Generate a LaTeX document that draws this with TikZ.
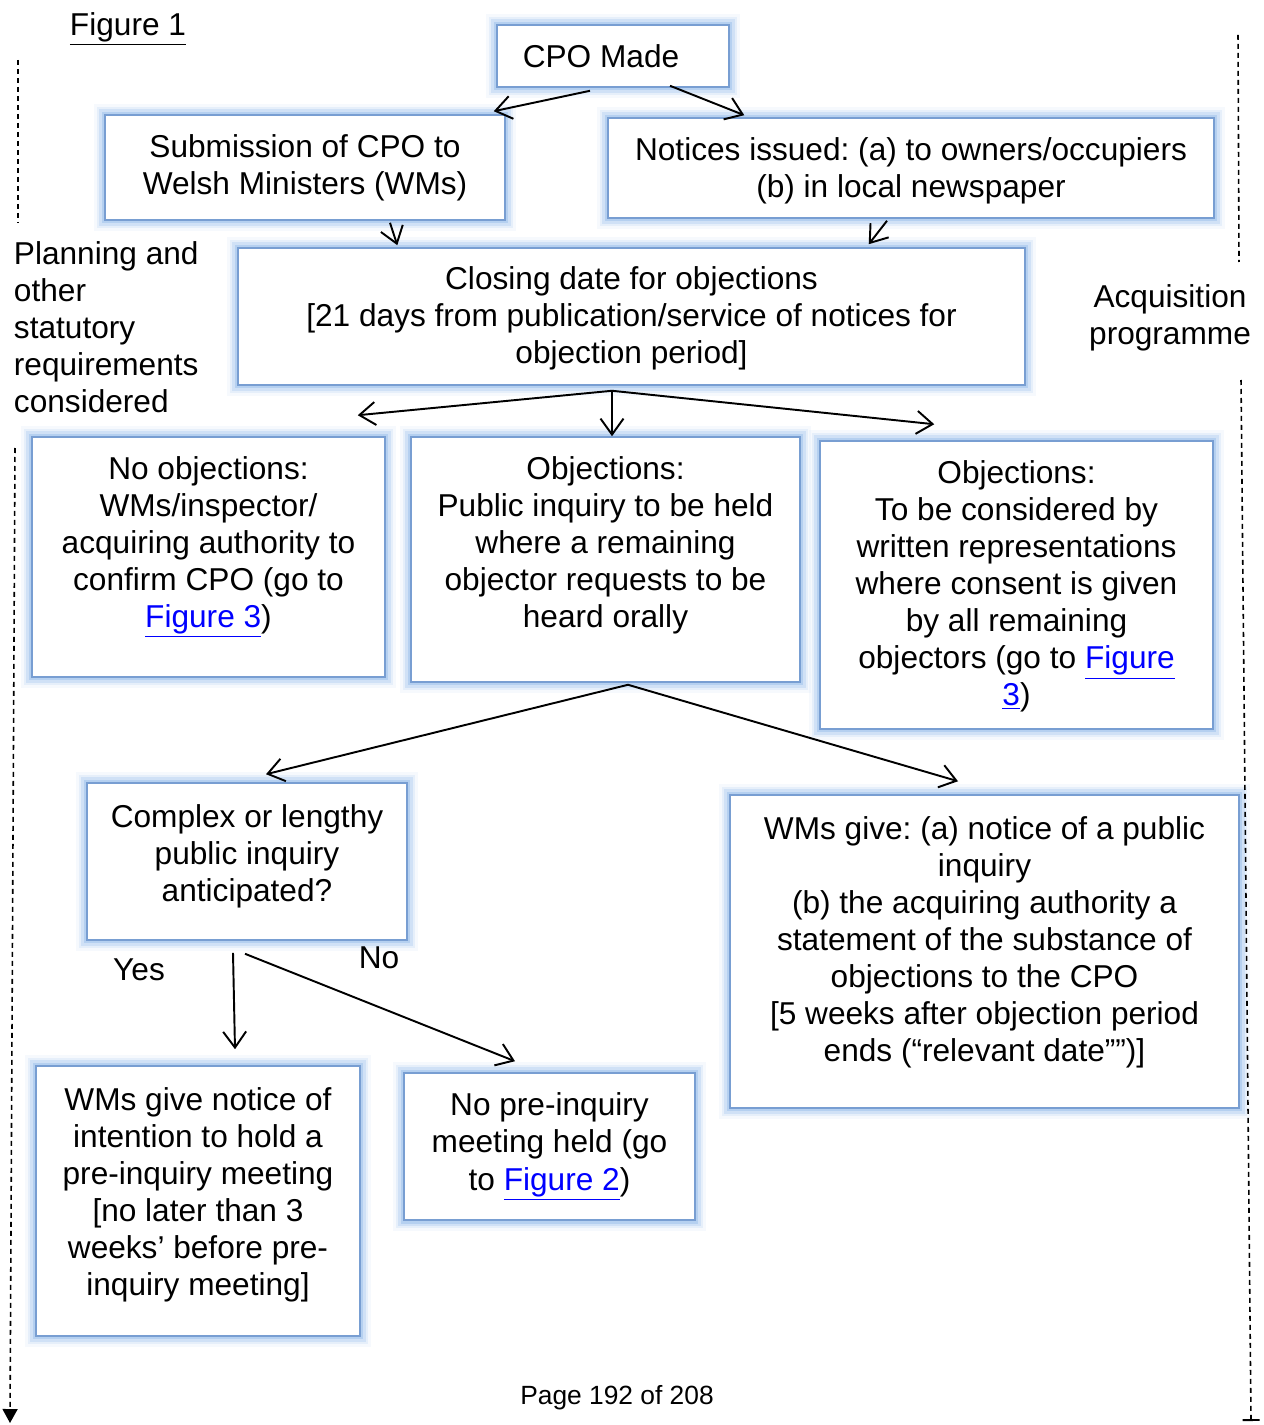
\documentclass[tikz,border=0pt]{standalone}
\usepackage{fontspec}
\setmainfont{Liberation Sans}
\usetikzlibrary{arrows.meta}
\usetikzlibrary{calc}
\definecolor{glow1}{RGB}{140, 182, 232}
\definecolor{edge1}{RGB}{120, 158, 210}
\definecolor{link1}{RGB}{0, 0, 255}
\newcommand{\lnk}[1]{\textcolor{link1}{\underline{#1}}}
\newcommand{\bodyfont}{\fontsize{18}{21.1}\selectfont}
\frenchspacing

\begin{document}
\begin{tikzpicture}[x=0.02cm, y=-0.02cm, line width=1.1pt,
  box/.style={draw=edge1, line width=0.9pt, fill=white, align=center, font=\bodyfont,
    preaction={draw=glow1, line width=0.44cm, opacity=0.08},
    preaction={draw=glow1, line width=0.34cm, opacity=0.15},
    preaction={draw=glow1, line width=0.24cm, opacity=0.25},
    preaction={draw=glow1, line width=0.14cm, opacity=0.4}},
  arr/.style={-{Straight Barb[length=0.32cm,width=0.46cm]}},
  dash1/.style={dash pattern=on 0.1cm off 0.08cm, line width=0.9pt},
  lbl/.style={font=\bodyfont, inner sep=0}]
  \useasboundingbox (0,0) rectangle (1263,1425);

  \node[box, minimum width=4.64cm, minimum height=1.24cm] (cpo) at (613,56) {CPO Made\hspace*{0.48cm}};
  \node[box, minimum width=8cm, minimum height=2.1cm, text depth=0.13cm] (sub) at (305,167.5)
    {Submission of CPO to\\Welsh Ministers (WMs)};
  \node[box, minimum width=12.12cm, minimum height=2cm, text depth=0cm] (notice) at (911,168)
    {Notices issued: (a) to owners/occupiers\\(b) in local newspaper};
  \node[box, minimum width=15.74cm, minimum height=2.74cm, text depth=0.05cm] (close) at (631.5,316.5)
    {Closing date for objections\\{}[21 days from publication/service of notices for\\objection period]};
  \node[box, minimum width=7.06cm, minimum height=4.8cm, text depth=0.61cm] (noobj) at (208.5,557)
    {No objections:\\WMs/inspector/\\acquiring authority to\\confirm CPO (go to\\\lnk{Figure 3})};
  \node[box, minimum width=7.78cm, minimum height=4.9cm, text depth=0.69cm] (objmid) at (605.5,559.5)
    {Objections:\\Public inquiry to be held\\where a remaining\\objector requests to be\\heard orally};
  \node[box, minimum width=7.86cm, minimum height=5.76cm, text depth=0.07cm] (objright) at (1016.5,585)
    {Objections:\\To be considered by\\written representations\\where consent is given\\by all remaining\\objectors (go to \lnk{Figure}\\\lnk{3})};
  \node[box, minimum width=6.4cm, minimum height=3.14cm, text depth=0.35cm] (complex) at (247,861.5)
    {Complex or lengthy\\public inquiry\\anticipated?};
  \node[box, minimum width=10.18cm, minimum height=6.26cm, text depth=0.51cm] (wmsgive) at (984.5,951.5)
    {WMs give: (a) notice of a public\\inquiry\\(b) the acquiring authority a\\statement of the substance of\\objections to the CPO\\{}[5 weeks after objection period\\ends (“relevant date””)]};
  \node[box, minimum width=6.48cm, minimum height=5.4cm, text depth=0.39cm] (wmsnotice) at (198,1201)
    {WMs give notice of\\intention to hold a\\pre-inquiry meeting\\{}[no later than 3\\weeks’ before pre-\\inquiry meeting]};
  \node[box, minimum width=5.82cm, minimum height=2.94cm, text depth=0.2cm] (noprei) at (549.5,1146.5)
    {No pre-inquiry\\meeting held (go\\to \lnk{Figure 2})};

  \node[lbl] (fig1) at (128,29) {\underline{Figure 1}};
  \node[lbl, anchor=west, align=left] (plan) at (13,327)
    {Planning and\\other\\statutory\\requirements\\considered};
  \node[lbl, align=center] (acq) at (1170,317.5) {Acquisition\\programme};
  \node[lbl] (yes) at (139,970) {Yes};
  \node[lbl] (no) at (379,958) {No};
  \node[lbl, font=\fontsize{15}{18}\selectfont] (page) at (617,1398) {Page 192 of 208};

  \draw[arr] ($(cpo.south)+(-23,3)$) -- ($(sub.north east)+(-12,-3)$);
  \draw[arr] ($(cpo.south)+(57,-2)$) -- ($(notice.north west)+(137,-2)$);
  \draw[arr] ($(sub.south)+(85,2)$) -- ($(close.north west)+(160,-2)$);
  \draw[arr] ($(notice.south)+(-24,2)$) -- ($(close.north east)+(-157,-3)$);
  \draw[arr] ($(close.south)+(-19.5,5)$) -- ($(noobj.north east)+(-28,-21)$);
  \draw[arr] ($(close.south)+(-19.5,5)$) -- ($(objmid.north)+(6.5,0)$);
  \draw[arr] ($(close.south)+(-19.5,5)$) -- ($(objright.north west)+(115,-16)$);
  \draw[arr] ($(objmid.south)+(22.5,2)$) -- ($(complex.north)+(19,-8)$);
  \draw[arr] ($(objmid.south)+(22.5,2)$) -- ($(wmsgive.north)+(-26.5,-13)$);
  \draw[arr] ($(complex.south)+(-14,12)$) -- ($(wmsnotice.north)+(37,-16)$);
  \draw[arr] ($(complex.south)+(-2,13)$) -- ($(noprei.north)+(-34.5,-11)$);

  \coordinate (la) at (18,60);
  \coordinate (lb) at (18,222);
  \coordinate (lc) at (15,448);
  \coordinate (ld) at (10,1423);
  \coordinate (ra) at (1238,35);
  \coordinate (rb) at (1239,262);
  \coordinate (rc) at (1241,380);
  \coordinate (rd) at (1251,1421);
  \draw[dash1] (la) -- (lb);
  \draw[dash1, -{Triangle[length=0.28cm,width=0.3cm]}] (lc) -- (ld);
  \draw[dash1] (ra) -- (rb);
  \draw[dash1, -{Bar[width=0.34cm,line width=1.1pt]}] (rc) -- (rd);
\end{tikzpicture}
\end{document}
